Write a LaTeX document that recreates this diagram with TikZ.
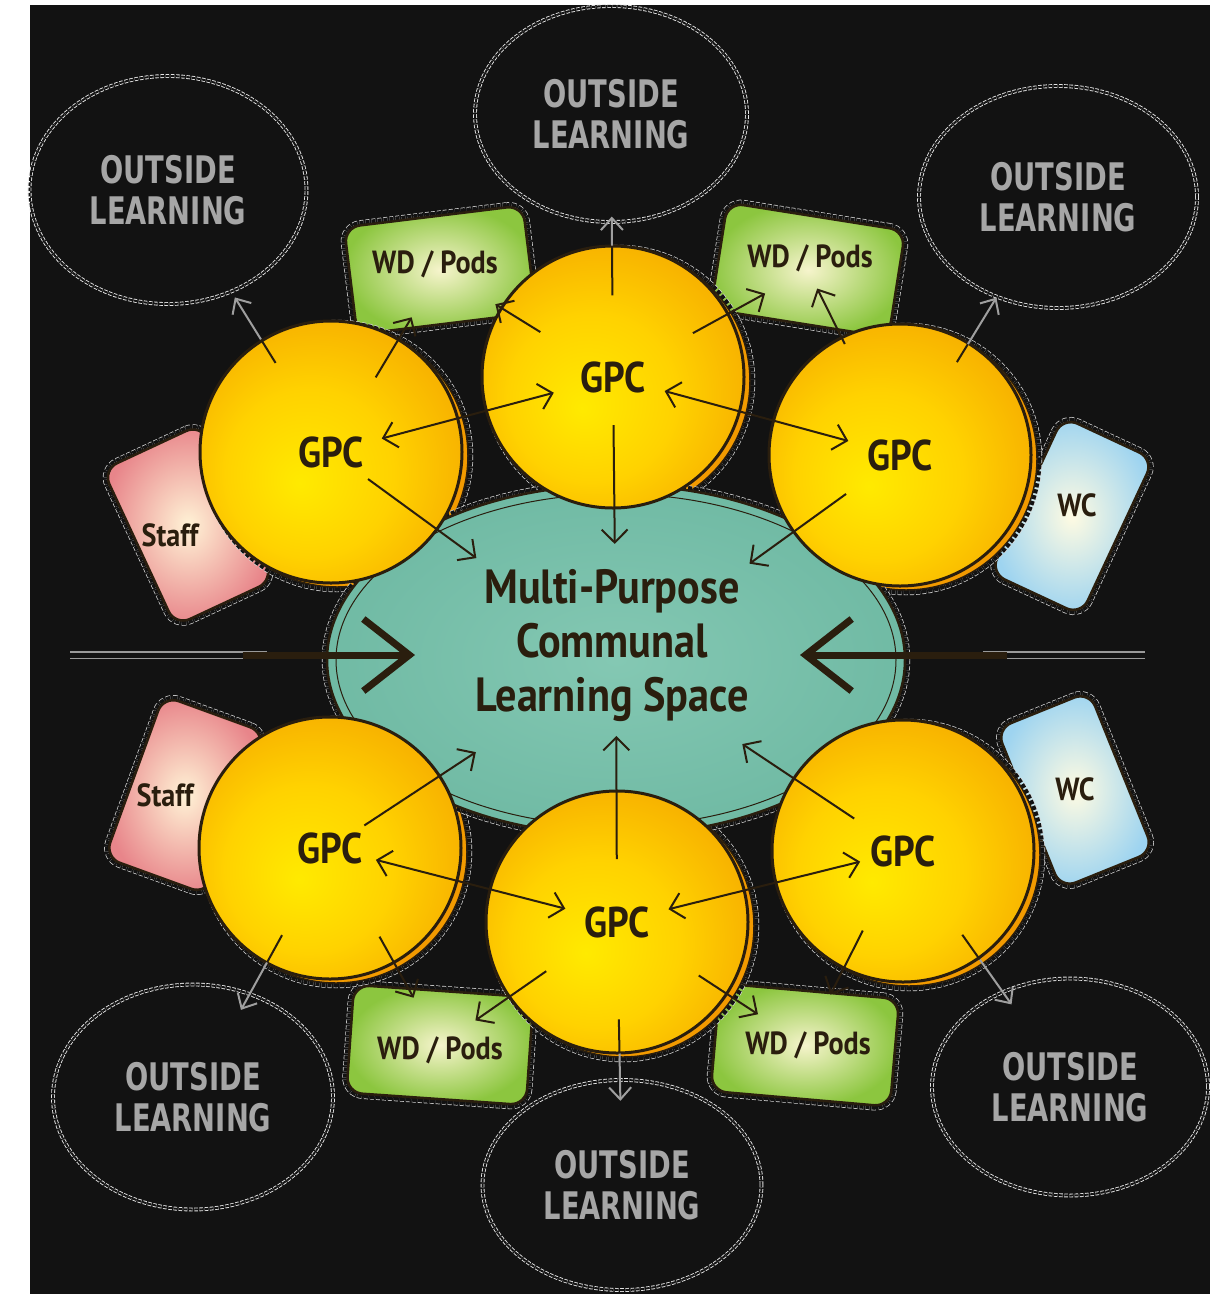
\documentclass[tikz,border=0pt]{standalone}
\usepackage{fontspec}
\setmainfont{PT Sans}
\newfontfamily\gpcfont[FakeStretch=0.88]{PT Sans}
\newfontfamily\outsidefont[FakeStretch=0.72]{DejaVu Sans}
\usetikzlibrary{positioning}
\usetikzlibrary{shapes.geometric, calc}
\usetikzlibrary{arrows.meta}

\definecolor{board}{HTML}{121212}
\definecolor{ink}{HTML}{2A1E0E}
\definecolor{gpcin}{HTML}{FFEA00}
\definecolor{gpcmid}{HTML}{FFD200}
\definecolor{gpcout}{HTML}{F29A00}
\definecolor{spacein}{HTML}{84C8B3}
\definecolor{spaceout}{HTML}{70BAA4}
\definecolor{wdgreen}{HTML}{8CC63F}
\definecolor{wdlight}{HTML}{F6F4CC}
\definecolor{staffpink}{HTML}{E8858A}
\definecolor{stafflight}{HTML}{FFF3D6}
\definecolor{wcblue}{HTML}{9ED4F0}
\definecolor{wclight}{HTML}{FFFBE2}
\pgfdeclareradialshading{gpcball}{\pgfpoint{-6bp}{-6bp}}{color(0bp)=(gpcin); color(16bp)=(gpcmid); color(38bp)=(gpcout); color(50bp)=(gpcout!90!black)}

\begin{document}
\begin{tikzpicture}[x=1pt, y=-1pt,
	cut/.style={preaction={draw=white!70!gray, line width=0.7pt, double=board, double distance=9pt, dash pattern=on 4pt off 2pt}},
	gpc/.style={circle, minimum size=262pt, draw=ink, line width=3pt, shading=gpcball, text=ink, font=\gpcfont\bfseries\fontsize{43}{50}\selectfont},
	rim/.style={cut, fill=gpcout, draw=ink, line width=1.5pt},
	space/.style={ellipse, minimum width=578pt, minimum height=350pt, draw=ink, line width=2.5pt, inner color=spacein, outer color=spaceout, cut},
	spacetext/.style={text=ink, align=center, font=\gpcfont\bfseries\fontsize{48}{54}\selectfont},
	outside/.style={ellipse, draw=white!80!gray, line width=0.9pt, double=board, double distance=2pt, dash pattern=on 3.6pt off 1.6pt, text=gray!70, align=center, font=\outsidefont\bfseries\fontsize{38}{41}\selectfont},
	wdbox/.style={rectangle, rounded corners=16pt, draw=ink, line width=2.5pt, inner color=wdlight, outer color=wdgreen, minimum width=180pt, minimum height=108pt, cut},
	staffbox/.style={rectangle, rounded corners=16pt, draw=ink, line width=2.5pt, inner color=stafflight, outer color=staffpink, minimum width=108pt, minimum height=172pt, cut},
	wcbox/.style={rectangle, rounded corners=16pt, draw=ink, line width=2.5pt, inner color=wclight, outer color=wcblue, minimum width=100pt, minimum height=172pt, cut},
	boxtext/.style={text=ink, font=\gpcfont\bfseries\fontsize{32}{36}\selectfont},
	link/.style={draw=ink, line width=2pt, -{Straight Barb[length=13pt, width=26pt]}},
	both/.style={link, {Straight Barb[length=13pt, width=26pt]}-{Straight Barb[length=13pt, width=26pt]}},
	outlink/.style={draw=gray!75, line width=2pt, -{Straight Barb[length=12pt, width=22pt]}},
	rail/.style={draw=gray!80, line width=1.4pt, double=board, double distance=5pt},
	bigarrow/.style={draw=ink, line width=7pt, -{Straight Barb[length=46pt, width=72pt]}}]

	% board
	\fill[white] (0,0) rectangle (1220,1294);
	\fill[board] (30,5) rectangle (1210,1294);
	\useasboundingbox (0,0) rectangle (1220,1294);

	% outside learning areas
	\node[outside, minimum width=277pt, minimum height=228pt] (oTL) at (168,190) {OUTSIDE\\LEARNING};
	\node[outside, minimum width=272pt, minimum height=216pt] (oT) at (611,114) {OUTSIDE\\LEARNING};
	\node[outside, minimum width=278pt, minimum height=222pt] (oTR) at (1058,197) {OUTSIDE\\LEARNING};
	\node[outside, minimum width=280pt, minimum height=225pt] (oBL) at (193,1097) {OUTSIDE\\LEARNING};
	\node[outside, minimum width=279pt, minimum height=210pt] (oB) at (622,1185) {OUTSIDE\\LEARNING};
	\node[outside, minimum width=276pt, minimum height=217pt] (oBR) at (1070,1087) {OUTSIDE\\LEARNING};

	% rooms
	\node[wdbox, rotate=7] (wTL) at (440,270) {};
	\node[wdbox, rotate=-9] (wTR) at (808,270) {};
	\node[wdbox, rotate=-4] (wBL) at (440,1045) {};
	\node[wdbox, rotate=-5] (wBR) at (805,1045) {};
	\node[staffbox, rotate=25] (sU) at (188,525) {};
	\node[staffbox, rotate=-20] (sL) at (185,795) {};
	\node[wcbox, rotate=-25] (cU) at (1072,516) {};
	\node[wcbox, rotate=22] (cL) at (1075,790) {};

	% centres of the GPCs
	\coordinate (mTL) at (331,452);
	\coordinate (mT) at (613,377);
	\coordinate (mTR) at (900,455);
	\coordinate (mBL) at (330,848);
	\coordinate (mB) at (617,922);
	\coordinate (mBR) at (903,851);
	\foreach \m in {mTL,mT,mTR,mBL,mB,mBR}
		\draw[rim] ($(\m)+(6,4)$) circle (131);

	% communal space
	\node[space] (space) at (616,660) {};
	\draw[ink, line width=1pt] (space.center) ellipse [x radius=280, y radius=166];

	\node[gpc] (gTL) at (mTL) {GPC};
	\node[gpc] (gT) at (mT) {GPC};
	\node[gpc] (gTR) at (mTR) {GPC};
	\node[gpc] (gBL) at (mBL) {GPC};
	\node[gpc] (gB) at (mB) {GPC};
	\node[gpc] (gBR) at (mBR) {GPC};

	% entrances
	\coordinate (inL) at (70,655);
	\coordinate (tipL) at (415,655);
	\coordinate (inR) at (1145,655);
	\coordinate (tipR) at (800,655);
	\draw[rail] (inL) -- ($(inL)!.57!(tipL)$);
	\draw[bigarrow] ($(inL)!.5!(tipL)$) -- (tipL);
	\draw[rail] (inR) -- ($(inR)!.47!(tipR)$);
	\draw[bigarrow] ($(inR)!.4!(tipR)$) -- (tipR);

	% GPC to GPC
	\draw[both] ($(gTL)!.18!(gT)$) -- ($(gTL)!.79!(gT)$);
	\draw[both] ($(gT)!.18!(gTR)$) -- ($(gT)!.82!(gTR)$);
	\draw[both] ($(gBL)!.16!(gB)$) -- ($(gBL)!.82!(gB)$);
	\draw[both] ($(gB)!.18!(gBR)$) -- ($(gB)!.85!(gBR)$);

	% GPC to communal space
	\draw[link] ($(gTL)!.13!(space)$) -- ($(gTL)!.51!(space)$);
	\draw[link] ($(gT)!.17!(space)$) -- ($(gT)!.59!(space)$);
	\draw[link] ($(gTR)!.19!(space)$) -- ($(gTR)!.53!(space)$);
	\draw[link] ($(gBL)!.12!(space)$) -- ($(gBL)!.51!(space)$);
	\draw[link] ($(gB)!.24!(space)$) -- ($(gB)!.71!(space)$);
	\draw[link] ($(gBR)!.17!(space)$) -- ($(gBR)!.56!(space)$);

	% GPC to WD / Pods
	\draw[link] ($(gTL)!.41!(wTL)$) -- ($(gTL)!.74!(wTL)$);
	\draw[link] ($(gT)!.42!(wTL)$) -- ($(gT)!.68!(wTL)$);
	\draw[link] ($(gT)!.41!(wTR)$) -- ($(gT)!.78!(wTR)$);
	\draw[link] ($(gTR)!.6!(wTR)$) -- ($(gTR)!.9!(wTR)$);
	\draw[link] ($(gBL)!.45!(wBL)$) -- ($(gBL)!.76!(wBL)$);
	\draw[link] ($(gB)!.4!(wBL)$) -- ($(gB)!.8!(wBL)$);
	\draw[link] ($(gB)!.435!(wBR)$) -- ($(gB)!.75!(wBR)$);
	\draw[link] ($(gBR)!.41!(wBR)$) -- ($(gBR)!.74!(wBR)$);

	% GPC to outside learning
	\draw[link, -] ($(gTL)!.34!(oTL)$) -- ($(gTL)!.43!(oTL)$);
	\draw[outlink] ($(gTL)!.43!(oTL)$) -- ($(gTL)!.59!(oTL)$);
	\draw[link, -] ($(gT)!.31!(oT)$) -- ($(gT)!.5!(oT)$);
	\draw[outlink] ($(gT)!.5!(oT)$) -- ($(gT)!.61!(oT)$);
	\draw[link, -] ($(gTR)!.36!(oTR)$) -- ($(gTR)!.43!(oTR)$);
	\draw[outlink] ($(gTR)!.43!(oTR)$) -- ($(gTR)!.61!(oTR)$);
	\draw[link, -] ($(gBL)!.35!(oBL)$) -- ($(gBL)!.46!(oBL)$);
	\draw[outlink] ($(gBL)!.46!(oBL)$) -- ($(gBL)!.65!(oBL)$);
	\draw[link, -] ($(gB)!.37!(oB)$) -- ($(gB)!.5!(oB)$);
	\draw[outlink] ($(gB)!.5!(oB)$) -- ($(gB)!.68!(oB)$);
	\draw[link, -] ($(gBR)!.355!(oBR)$) -- ($(gBR)!.46!(oBR)$);
	\draw[outlink] ($(gBR)!.46!(oBR)$) -- ($(gBR)!.65!(oBR)$);

	% labels
	\node[spacetext] (spacelbl) at (612,646) {Multi-Purpose\\Communal\\Learning Space};
	\node[boxtext] (wTLt) at (435,264) {WD / Pods};
	\node[boxtext] (wTRt) at (810,258) {WD / Pods};
	\node[boxtext] (wBLt) at (440,1050) {WD / Pods};
	\node[boxtext] (wBRt) at (808,1045) {WD / Pods};
	\node[boxtext] (sUt) at (170,535) {Staff};
	\node[boxtext] (sLt) at (165,795) {Staff};
	\node[boxtext] (cUt) at (1077,505) {WC};
	\node[boxtext] (cLt) at (1075,789) {WC};
\end{tikzpicture}
\end{document}
